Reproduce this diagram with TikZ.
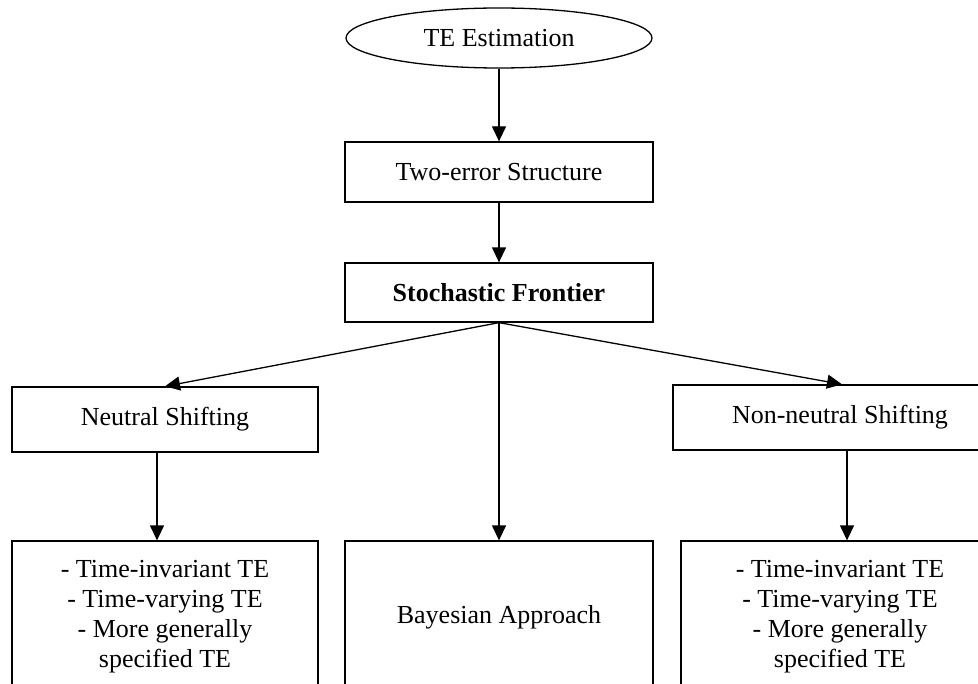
\documentclass[tikz,border=0pt]{standalone}
\usepackage{fontspec}
\setmainfont{Liberation Serif}
\usetikzlibrary{shapes.geometric, arrows.meta}
\tikzset{
    box/.style={draw, rectangle, line width=0.65pt, inner sep=0pt, minimum height=30pt, minimum width=154pt, align=center},
    tall/.style={box, minimum height=76pt},
    oval/.style={draw, ellipse, line width=0.65pt, inner sep=0pt, minimum width=153pt, minimum height=30pt},
    arr/.style={line width=0.65pt, -{Triangle[length=7.5pt, width=7pt]}}
}
\begin{document}
\begin{tikzpicture}[x=0.5pt, y=-0.5pt, font=\fontsize{13pt}{15pt}\selectfont]
    \useasboundingbox (0,0) rectangle (978,684);
    \clip (0,0) rectangle (978,684);

    \node[oval] (est) at (499,38) {TE Estimation};
    \node[box] (twoerr) at (499,172) {Two-error Structure};
    \node[box, minimum height=29.5pt] (stoch) at (499,292.5) {\textbf{Stochastic Frontier}};
    \node[box, minimum width=153pt, minimum height=32.5pt] (neutral) at (165,419.5) {Neutral Shifting};
    \node[box, minimum width=167pt, minimum height=32.5pt] (nonneutral) at (840,417.5) {Non-neutral Shifting};

    % bottom row
    \node[tall, minimum width=153pt] (lbox) at (165,617) {- Time-invariant TE\\- Time-varying TE\\- More generally\\specified TE};
    \node[tall] (mbox) at (499,617) {Bayesian Approach};
    \node[tall, minimum width=159pt] (rbox) at (840,617) {- Time-invariant TE\\- Time-varying TE\\- More generally\\specified TE};

    \draw[arr] (est) -- (twoerr);
    \draw[arr] (twoerr) -- (stoch);
    \draw[arr] (stoch.south) -- (neutral.north);
    \draw[arr] (stoch.south) -- ([xshift=1pt]nonneutral.north);
    \draw[arr] (stoch.south) -- (mbox.north);
    \draw[arr] ([xshift=-4pt]neutral.south) -- ([xshift=-4pt]lbox.north);
    \draw[arr] ([xshift=3.5pt]nonneutral.south) -- ([xshift=3.5pt]rbox.north);
\end{tikzpicture}
\end{document}
